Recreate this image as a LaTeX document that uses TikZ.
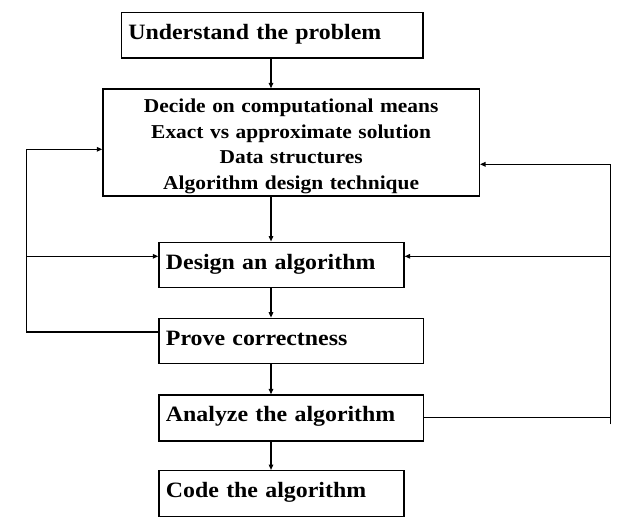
\documentclass[tikz,border=0pt]{standalone}
\usepackage{fontspec}
\setmainfont{Liberation Serif}[FakeStretch=1.09]
\usetikzlibrary{arrows.meta}
\begin{document}
\begin{tikzpicture}[x=1pt,y=-1pt,
  box/.style={draw, line width=1.3pt, rectangle, inner xsep=7pt, inner ysep=0pt,
    anchor=north west, align=left, text height=27pt,
    font=\fontsize{21.9}{26}\selectfont\bfseries},
  bigbox/.style={draw, line width=1.3pt, rectangle, inner xsep=0pt, inner ysep=0pt,
    anchor=north west, align=center, text height=23.4pt,
    font=\fontsize{19.65}{25.8}\selectfont\bfseries},
  ln/.style={line width=1.3pt, line join=miter},
  arr/.style={ln, -{Triangle[length=5.5pt,width=4.5pt]}}]
\useasboundingbox (0,0) rectangle (633,519);

\node[box, text width=287.6pt, text depth=18.6pt] (b1) at (120.7,11.7) {Understand the problem};
\node[bigbox, text width=376.4pt, text depth=83.6pt] (b2) at (102.3,88.3)
  {Decide on computational means\\Exact vs approximate solution\\Data structures\\Algorithm design technique};
\node[box, text width=231pt, text depth=18.2pt] (b3) at (158.3,241.5) {Design an algorithm};
\node[box, text width=250.4pt, text depth=18.3pt] (b4) at (158.3,317.7) {Prove correctness};
\node[box, text width=250.4pt, text depth=19pt] (b5) at (158.3,394.3) {Analyze the algorithm};
\node[box, text width=231pt, text depth=19pt] (b6) at (158.3,470) {Code the algorithm};

\coordinate (ax) at (271,0);
\draw[arr] (b1.south -| ax) -- (b2.north -| ax);
\draw[arr] (b2.south -| ax) -- (b3.north -| ax);
\draw[arr] (b3.south -| ax) -- (b4.north -| ax);
\draw[arr] (b4.south -| ax) -- (b5.north -| ax);
\draw[arr] (b5.south -| ax) -- (b6.north -| ax);

\coordinate (l1) at (26.3,332);
\coordinate (l2) at (26.3,149.3);
\coordinate (l3) at (26.3,256.3);
\draw[arr] (b4.west |- l1) -- (l1) -- (l2) -- (b2.west |- l2);
\draw[arr] (l3) -- (b3.west |- l3);

\coordinate (r1) at (610.5,417.3);
\coordinate (r0) at (610.5,424.3);
\coordinate (r2) at (610.5,164.3);
\coordinate (r3) at (610.5,256.3);
\draw[ln] (b5.east |- r1) -- (r1);
\draw[arr] (r0) -- (r2) -- (b2.east |- r2);
\draw[arr] (r3) -- (b3.east |- r3);
\end{tikzpicture}
\end{document}
